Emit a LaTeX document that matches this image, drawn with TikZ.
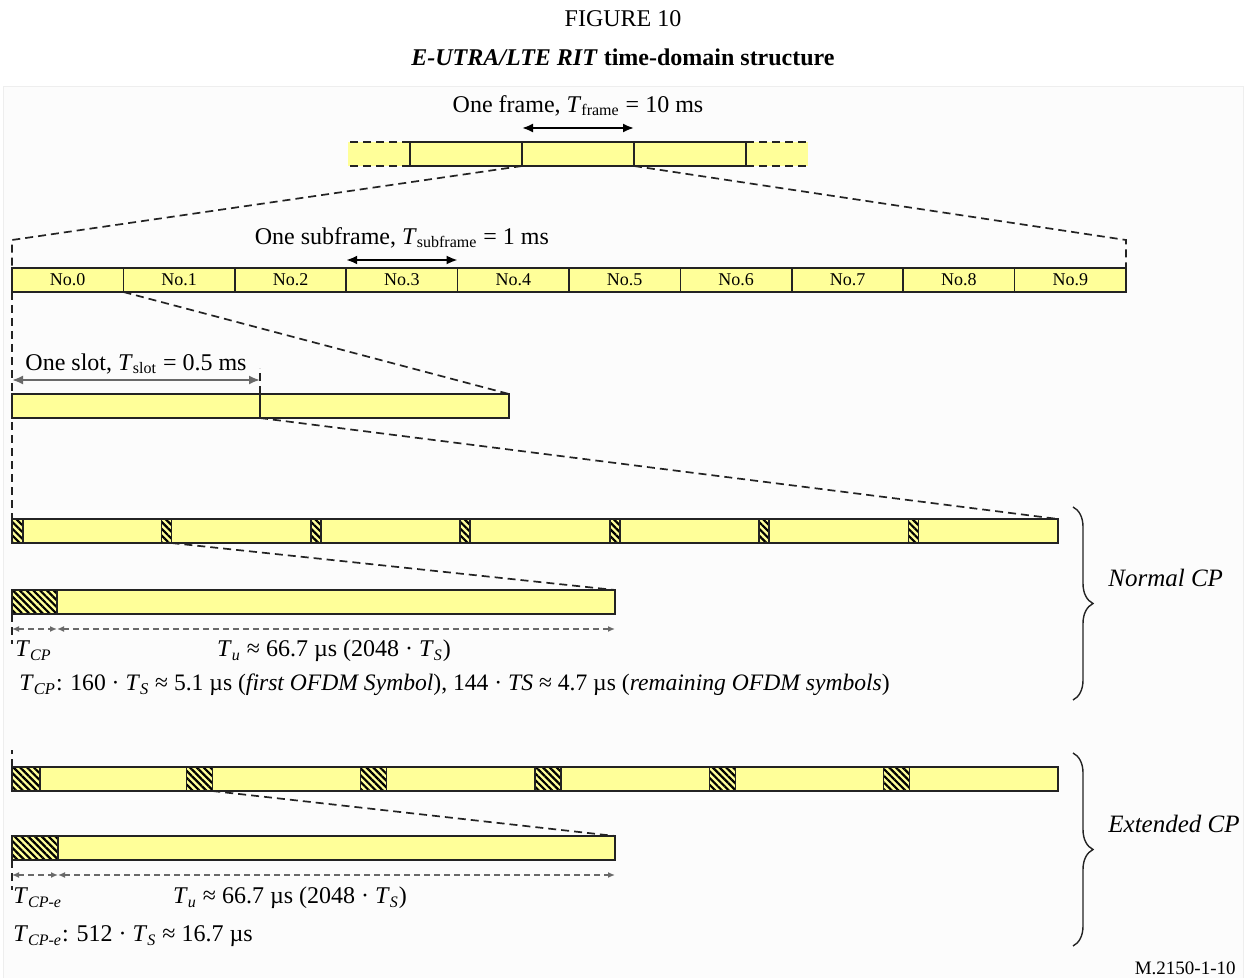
\documentclass[tikz,border=0pt]{standalone}
\usepackage{fontspec}
\setmainfont{Liberation Serif}
\usepackage{tikz}
\usetikzlibrary{arrows.meta,positioning,patterns.meta,decorations.pathreplacing}
\definecolor{SymY}  {RGB}{255,255,153}
\definecolor{EdgeK} {RGB}{35,  35,  35}
\definecolor{DimG}  {RGB}{105,105,105}
\definecolor{PanelW}{RGB}{252,252,252}
\definecolor{PanelL}{RGB}{238,238,238}
\tikzset{
  slotbox/.style={draw=EdgeK,fill=SymY,line width=0.8pt,anchor=north west,
    inner sep=0pt,outer sep=0pt,minimum height=12pt},
  cpbox/.style={slotbox,preaction={fill=SymY},
    pattern={Lines[angle=-45,distance=2.4pt,line width=1.1pt]},pattern color=black},
  zoomline/.style={EdgeK,line width=0.85pt,dash pattern=on 4pt off 2.5pt},
  spanarrow/.style={{Latex[length=5.5pt,width=4.5pt]}-{Latex[length=5.5pt,width=4.5pt]},line width=1pt},
  cparrow/.style={{Latex[length=3.5pt,width=3pt]}-{Latex[length=3.5pt,width=3pt]},
    DimG,line width=0.9pt,dash pattern=on 3pt off 2pt},
  lbl/.style={font=\fontsize{12}{14}\selectfont,inner sep=1pt},
  sbrace/.style={decorate,decoration={brace,amplitude=10pt},line width=0.7pt,EdgeK}
}

\begin{document}
\begin{tikzpicture}[x=0.5pt,y=-0.5pt]
        \useasboundingbox (0,0) rectangle (1246,978);
        \draw[PanelL,fill=PanelW] (3,86) rectangle (1243,978);
        \node[lbl] (fig) at (623,19) {FIGURE 10};
        \node[lbl] (cap) at (623,57) {\textbf{\textit{E-UTRA/LTE RIT} time-domain structure}};
        % frame
        \fill[SymY] (348,142) rectangle (808,166);
        \foreach \i/\x in {1/410,2/522,3/634}{
          \node[slotbox,minimum width=56pt] (fr\i) at (\x,142) {};}
        \draw[zoomline] (fr1.north west) -- ++(-62,0) (fr1.south west) -- ++(-62,0);
        \draw[zoomline] (fr3.north east) -- ++(62,0) (fr3.south east) -- ++(62,0);
        \draw[spanarrow] ([yshift=7pt]fr2.north west) -- ([yshift=7pt]fr2.north east)
          node[midway,above=4.5pt,lbl]{One frame, \textit{T}\textsubscript{frame} = 10 ms};
        % subframes
        \foreach \i in {0,...,9}{
          \node[slotbox,minimum width=55.7pt,font=\fontsize{9}{10}\selectfont] (sf\i) at ({12+111.4*\i},268) {\raisebox{-1pt}{No.\i}};}
        \coordinate (zl) at (12,240);
        \coordinate (zr) at (1126,240);
        \draw[zoomline] (fr2.south west) -- (zl) -- (sf0.north west);
        \draw[zoomline] (fr2.south east) -- (zr) -- (sf9.north east);
        \draw[spanarrow] ([yshift=4pt]sf3.north west) -- ([yshift=4pt]sf3.north east)
          node[midway,above=4.5pt,lbl]{One subframe, \textit{T}\textsubscript{subframe} = 1 ms};
        % slots
        \node[slotbox,minimum width=124pt] (sl0) at (12,394) {};
        \node[slotbox,minimum width=124.5pt] (sl1) at (sl0.north east) {};
        \draw[zoomline] (sf0.south east) -- (sl1.north east);
        \draw[zoomline] (sl0.north east) -- ++(0,-26);
        \draw[spanarrow,DimG] ([yshift=7pt]sl0.north west) -- ([yshift=7pt]sl0.north east)
          node[midway,above=1.5pt,lbl,black]{One slot, \textit{T}\textsubscript{slot} = 0.5 ms};
        % normal CP
        \foreach \i/\w in {0/5.5,1/5,2/5,3/5,4/5,5/5,6/5}{
          \node[slotbox,minimum width=74.71pt] (ns\i) at ({12+149.43*\i},519) {};
          \node[cpbox,minimum width=\w pt] (nc\i) at (ns\i.north west) {};}
        \draw[zoomline] (sf0.south west) -- (ns0.north west);
        \draw[zoomline] (sl1.south west) -- (ns6.north east);
        \node[slotbox,minimum width=301.5pt] (nu) at (12,590) {};
        \node[cpbox,minimum width=22.5pt] (nuc) at (nu.north west) {};
        \draw[zoomline] (nc1.south east) -- (nu.north east);
        \draw[cparrow] ([yshift=-7.5pt]nuc.south west) -- ([yshift=-7.5pt]nuc.south east);
        \draw[cparrow] ([yshift=-7.5pt]nuc.south east) -- ([yshift=-7.5pt]nu.south east);
        \draw[zoomline] (nu.south west) -- ++(0,30);
        \node[lbl,anchor=west] (tcp) at (13,651) {\textit{T}\textsubscript{\textit{CP}}};
        \node[lbl] (tun) at (334,651) {\textit{T}\textsubscript{\textit{u}} ≈ 66.7 µs (2048 · \textit{T}\textsubscript{\textit{S}})};
        \node[lbl,anchor=west,font=\fontsize{11.8}{14}\selectfont] (tcpdef) at (17,685) {\textit{T}\textsubscript{\textit{CP}}: 160 · \textit{T}\textsubscript{\textit{S}} ≈ 5.1 µs (\textit{first OFDM Symbol}), 144 · \textit{TS} ≈ 4.7 µs (\textit{remaining OFDM symbols})};
        \coordinate (nb1) at (1073,507);
        \coordinate (nb2) at (1073,700);
        \draw[sbrace] (nb1) -- (nb2);
        \node[lbl,anchor=west,font=\fontsize{12.5}{14}\selectfont\itshape] (ncp) at (1106,578) {Normal CP};
        % extended CP
        \foreach \i/\w in {0/14,1/13,2/13,3/13,4/13,5/13}{
          \node[slotbox,minimum width=87.17pt] (es\i) at ({12+174.33*\i},767) {};
          \node[cpbox,minimum width=\w pt] (ec\i) at (es\i.north west) {};}
        \draw[zoomline] (es0.north west) -- ++(0,-17);
        \node[slotbox,minimum width=301.5pt] (eu) at (12,836) {};
        \node[cpbox,minimum width=23pt] (euc) at (eu.north west) {};
        \draw[zoomline] (ec1.south east) -- (eu.north east);
        \draw[cparrow] ([yshift=-7.5pt]euc.south west) -- ([yshift=-7.5pt]euc.south east);
        \draw[cparrow] ([yshift=-7.5pt]euc.south east) -- ([yshift=-7.5pt]eu.south east);
        \draw[zoomline] (eu.south west) -- ++(0,30);
        \node[lbl,anchor=west] (tcpe) at (11,898) {\textit{T}\textsubscript{\textit{CP-e}}};
        \node[lbl] (tue) at (290,898) {\textit{T}\textsubscript{\textit{u}} ≈ 66.7 µs (2048 · \textit{T}\textsubscript{\textit{S}})};
        \node[lbl,anchor=west] (tcpedef) at (11,936) {\textit{T}\textsubscript{\textit{CP-e}}: 512 · \textit{T}\textsubscript{\textit{S}} ≈ 16.7 µs};
        \coordinate (eb1) at (1073,753);
        \coordinate (eb2) at (1073,946);
        \draw[sbrace] (eb1) -- (eb2);
        \node[lbl,anchor=west,font=\fontsize{12.5}{14}\selectfont\itshape] (ecp) at (1106,824) {Extended CP};
        \node[anchor=east,inner sep=0pt,font=\fontsize{9.5}{11}\selectfont] (mref) at (1236,968) {M.2150-1-10};
      \end{tikzpicture}
\end{document}
